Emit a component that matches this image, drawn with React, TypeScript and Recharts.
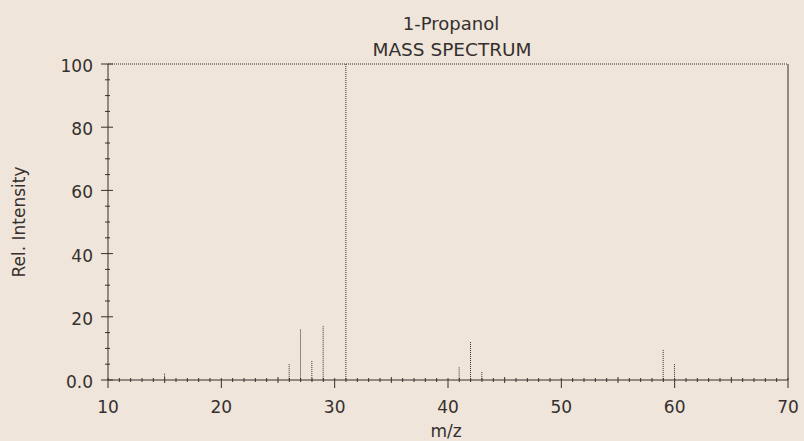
import React from 'react';
import { BarChart, Bar, XAxis, YAxis, ReferenceLine } from 'recharts';

// peaks
const mzValues = [15, 26, 27, 28, 29, 31, 41, 42, 43, 59, 60];
const relIntensity = [2, 5, 16, 6, 17, 100, 4, 12, 2.5, 9.5, 5];

const xTicks = Array.from({ length: 61 }, (_, i) => 10 + i);
const yTicks = [0, 5, 10, 15, 20, 25, 30, 35, 40, 45, 50, 55, 60, 65, 70, 75, 80, 85, 90, 95, 100];
const yLabels: Record<number, string> = { 0: '0.0', 20: '20', 40: '40', 60: '60', 80: '80', 100: '100' };

const data = mzValues.map((mz, i) => ({ mz, intensity: relIntensity[i] }));

const INK = '#35302d';
const PAPER = '#efe5db';
const FONT = '"DejaVu Sans", sans-serif';

const XTick = (props: any) => {
  const { x, y, payload } = props;
  const v = payload.value as number;
  const major = v % 10 === 0;
  const mid = v % 5 === 0;
  return (
    <g>
      {major ? (
        <line x1={x} x2={x} y1={y - 2} y2={y + 8} stroke={INK} />
      ) : (
        <line x1={x} x2={x} y1={y - (mid ? 3 : 2)} y2={y + (mid ? 3 : 2)} stroke={INK} />
      )}
      {major && (
        <text x={x} y={y + 33} textAnchor="middle" fontSize={17} fill={INK} fontFamily={FONT}>
          {v}
        </text>
      )}
    </g>
  );
};

const YTick = (props: any) => {
  const { x, y, payload } = props;
  const v = payload.value as number;
  const major = v % 20 === 0;
  return (
    <g>
      <line x1={x - (major ? 7 : 3)} x2={x + (major ? 5 : 2)} y1={y} y2={y} stroke={INK} />
      {major && (
        <text x={x - 15} y={y + 2} dy="0.35em" textAnchor="end" fontSize={17} fill={INK} fontFamily={FONT}>
          {yLabels[v]}
        </text>
      )}
    </g>
  );
};

const PeakLine = (props: any) => {
  const { x, y, width, height } = props;
  if (height == null || height <= 0) return null;
  const cx = x + width / 2;
  return (
    <line x1={cx} x2={cx} y1={y} y2={y + height} stroke={INK} strokeWidth={1} strokeDasharray="1 1" />
  );
};

export default function App() {
  return (
    <div
      style={{
        position: 'fixed',
        left: 0,
        top: 0,
        width: 804,
        height: 441,
        background: PAPER,
      }}
    >
      <BarChart
        width={804}
        height={441}
        data={data}
        margin={{ top: 64, right: 16, left: 0, bottom: 0 }}
        barSize={1}
      >
        <XAxis
          dataKey="mz"
          type="number"
          domain={[10, 70]}
          ticks={xTicks}
          interval={0}
          height={61}
          tickSize={0}
          tickMargin={0}
          tickLine={false}
          axisLine={{ stroke: INK }}
          tick={<XTick />}
          allowDataOverflow
        />
        <YAxis
          type="number"
          domain={[0, 100]}
          ticks={yTicks}
          interval={0}
          width={108}
          tickSize={0}
          tickMargin={0}
          tickLine={false}
          axisLine={{ stroke: INK }}
          tick={<YTick />}
        />
        <ReferenceLine y={100} stroke={INK} strokeDasharray="1 1" />
        <ReferenceLine x={70} stroke={INK} />
        <Bar dataKey="intensity" shape={<PeakLine />} isAnimationActive={false} />
      </BarChart>
      <svg
        width={804}
        height={441}
        style={{ position: 'absolute', left: 0, top: 0, pointerEvents: 'none' }}
        fontFamily={FONT}
        fill={INK}
      >
        <text x={451} y={30} textAnchor="middle" fontSize={18}>1-Propanol</text>
        <text x={452} y={56} textAnchor="middle" fontSize={18.5}>MASS SPECTRUM</text>
        <text x={25} y={222} textAnchor="middle" fontSize={17} transform="rotate(-90, 25, 222)">
          Rel. Intensity
        </text>
        <text x={446} y={437} textAnchor="middle" fontSize={17}>m/z</text>
      </svg>
    </div>
  );
}
